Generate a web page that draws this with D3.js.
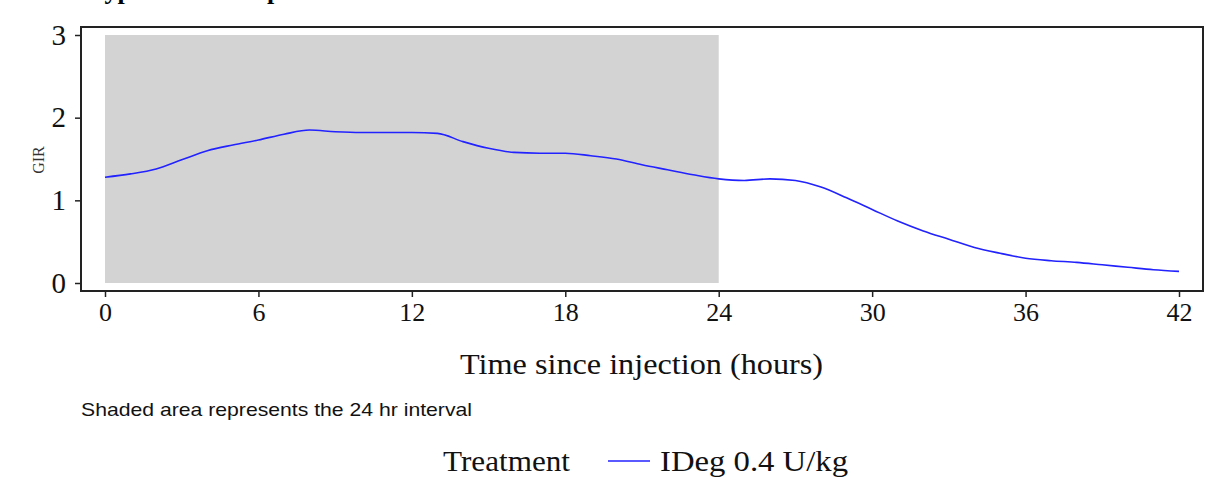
<!DOCTYPE html>
<html><head><meta charset="utf-8">
<script src="https://cdn.jsdelivr.net/npm/d3@7"></script>
<style>body{margin:0;background:#fff;} svg{display:block;}</style>
</head><body>
<svg id="chart" width="1223" height="496"></svg>
<script>
const hours = [0,1,2,3,4,5,6,7,8,9,10,11,12,13,14,15,16,17,18,19,20,21,22,23,24,25,26,27,28,29,30,31,32,33,34,35,36,37,38,39,40,41,42];
const gir = [1.28,1.32,1.38,1.49,1.60,1.67,1.73,1.80,1.85,1.83,1.82,1.82,1.82,1.81,1.71,1.63,1.58,1.57,1.57,1.54,1.50,1.43,1.37,1.31,1.26,1.24,1.26,1.24,1.16,1.03,0.89,0.75,0.63,0.53,0.43,0.36,0.30,0.27,0.25,0.22,0.19,0.16,0.14];
const xTicks = [0,6,12,18,24,30,36,42];
const yTicks = [0,1,2,3];
const shadedInterval = [0,24];
const seriesName = "IDeg 0.4 U/kg";

const svg = d3.select("#chart");
const serif = "'Liberation Serif','Times New Roman',serif";
const x = d3.scaleLinear().domain([0,42]).range([105,1179]);
const y = d3.scaleLinear().domain([0,3]).range([283,35]);

// partially cut title (cut off at the top edge in the reference)
svg.append("text").attr("x",62).attr("y",-1).attr("font-family",serif).attr("font-weight","bold")
  .attr("font-size",26).text("b. Type 1 diabetes patients");

// shaded area
svg.append("rect").attr("x",x(shadedInterval[0])).attr("y",y(3))
  .attr("width",x(shadedInterval[1])-x(shadedInterval[0])).attr("height",y(0)-y(3))
  .attr("fill","#d3d3d3");

// frame
svg.append("rect").attr("x",81).attr("y",27).attr("width",1203-81).attr("height",291-27)
  .attr("fill","none").attr("stroke","#222").attr("stroke-width",2);

// axes
const xAxis = svg.append("g").attr("transform","translate(0,291)")
  .call(d3.axisBottom(x).tickValues(xTicks).tickFormat(d3.format("d")).tickSize(6).tickPadding(6).tickSizeOuter(0));
xAxis.select(".domain").remove();
xAxis.selectAll("line").attr("stroke","#222").attr("stroke-width",1.5);
xAxis.selectAll("text").attr("font-family",serif).attr("font-size",26).attr("fill","#111");

const yAxis = svg.append("g").attr("transform","translate(81,0)")
  .call(d3.axisLeft(y).tickValues(yTicks).tickFormat(d3.format("d")).tickSize(6).tickPadding(9).tickSizeOuter(0));
yAxis.select(".domain").remove();
yAxis.selectAll("line").attr("stroke","#222").attr("stroke-width",1.5);
yAxis.selectAll("text").attr("font-family",serif).attr("font-size",29).attr("fill","#111");

// line
const line = d3.line().x((d,i)=>x(hours[i])).y(d=>y(d)).curve(d3.curveMonotoneX);
svg.append("path").datum(gir).attr("d",line).attr("fill","none")
  .attr("stroke","#2222ff").attr("stroke-width",1.6);

// labels
svg.append("text").attr("x",460).attr("y",374)
  .attr("font-family",serif).attr("font-size",30).attr("textLength",363).attr("lengthAdjust","spacingAndGlyphs")
  .attr("fill","#111").text("Time since injection (hours)");
svg.append("text").attr("transform","translate(44,160) rotate(-90)").attr("text-anchor","middle")
  .attr("font-family",serif).attr("font-size",16).attr("fill","#333").text("GIR");
svg.append("text").attr("x",81).attr("y",416).attr("font-family","'Liberation Sans','Open Sans',sans-serif")
  .attr("font-size",19).attr("textLength",391).attr("lengthAdjust","spacingAndGlyphs")
  .attr("fill","#111").text("Shaded area represents the 24 hr interval");

// legend
svg.append("text").attr("x",443).attr("y",471).attr("font-family",serif).attr("font-size",29)
  .attr("textLength",127).attr("lengthAdjust","spacingAndGlyphs")
  .attr("fill","#111").text("Treatment");
svg.append("line").attr("x1",608).attr("x2",650).attr("y1",461).attr("y2",461)
  .attr("stroke","#2222ff").attr("stroke-width",1.6);
svg.append("text").attr("x",660).attr("y",471).attr("font-family",serif).attr("font-size",29)
  .attr("textLength",188).attr("lengthAdjust","spacingAndGlyphs")
  .attr("fill","#111").text(seriesName);
</script>
</body></html>
